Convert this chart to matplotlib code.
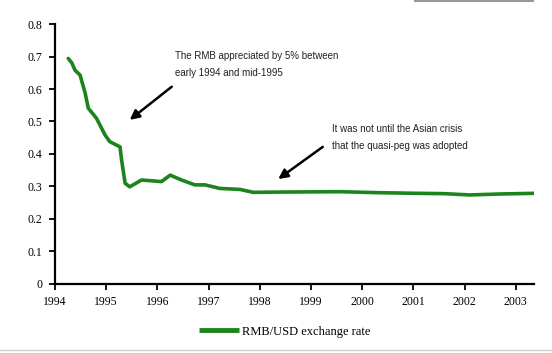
import matplotlib.pyplot as plt
from matplotlib.lines import Line2D

# RMB/USD exchange rate, decimal year vs rate
years = [1994.26, 1994.33, 1994.39, 1994.49, 1994.59, 1994.65, 1994.81, 1994.98,
         1995.07, 1995.27, 1995.30, 1995.37, 1995.46, 1995.69, 1996.08, 1996.25,
         1996.47, 1996.73, 1996.93, 1997.22, 1997.61, 1997.87, 1998.5, 1999.57,
         2000.3, 2001.06, 2001.6, 2002.1, 2002.7, 2003.37]
rate = [0.694, 0.680, 0.658, 0.643, 0.587, 0.541, 0.510, 0.458,
        0.438, 0.422, 0.382, 0.310, 0.299, 0.320, 0.315, 0.335,
        0.320, 0.305, 0.305, 0.294, 0.291, 0.282, 0.283, 0.284,
        0.281, 0.279, 0.278, 0.274, 0.277, 0.279]

xticks = list(range(1994, 2004))
yticks = [0, 0.1, 0.2, 0.3, 0.4, 0.5, 0.6, 0.7, 0.8]
ylabels = ['0', '0.1', '0.2', '0.3', '0.4', '0.5', '0.6', '0.7', '0.8']

note1 = "The RMB appreciated by 5% between\nearly 1994 and mid-1995"
note2 = "It was not until the Asian crisis\nthat the quasi-peg was adopted"

green = '#1c841c'
serif = ['Liberation Serif', 'DejaVu Serif']
sans = ['Liberation Sans', 'DejaVu Sans']

fig = plt.figure(figsize=(5.52, 3.53), dpi=100)
ax = fig.add_axes([0.0996, 0.1955, 0.8674, 0.7365])

line, = ax.plot(years, rate, color=green, lw=2.6, solid_joinstyle='round',
                solid_capstyle='round')

ax.set_xlim(1994, 2003.35)
ax.set_ylim(0, 0.8)
ax.set_xticks(xticks)
ax.set_xticklabels([str(y) for y in xticks], family=serif, fontsize=8.5)
ax.set_yticks(yticks)
ax.set_yticklabels(ylabels, family=serif, fontsize=8.5)

for s in ['top', 'right']:
    ax.spines[s].set_visible(False)
for s in ['left', 'bottom']:
    ax.spines[s].set_linewidth(1.6)
ax.tick_params(axis='both', direction='out', length=4, width=1.3, pad=5)

arrow = dict(arrowstyle='-|>', color='black', lw=1.8, mutation_scale=14,
             shrinkA=0, shrinkB=0)
ax.annotate('', xy=(1995.46, 0.505), xytext=(1996.28, 0.607), arrowprops=arrow)
ax.annotate('', xy=(1998.36, 0.323), xytext=(1999.23, 0.422), arrowprops=arrow)

ax.text(1996.34, 0.675, note1, family=sans, fontsize=7, va='center',
        ha='left', linespacing=1.9, color='#222222')
ax.text(1999.41, 0.451, note2, family=sans, fontsize=7, va='center',
        ha='left', linespacing=1.9, color='#222222')

leg = fig.legend([line], ['RMB/USD exchange rate'], loc='center',
                 bbox_to_anchor=(0.515, 0.06), frameon=False, handlelength=3.2,
                 handletextpad=0.25, prop={'family': serif, 'size': 9})
leg_line = leg.get_lines()[0]
leg_line.set_linewidth(3.5)
leg_line.set_solid_capstyle('butt')

# thin grey rules at the top and bottom edges
fig.add_artist(Line2D([0.0, 1.0], [0.009, 0.009], color='#cccccc', lw=1.0))
fig.add_artist(Line2D([0.752, 0.966], [0.996, 0.996], color='#999999', lw=1.5))

fig.savefig('out.png', dpi=100)
